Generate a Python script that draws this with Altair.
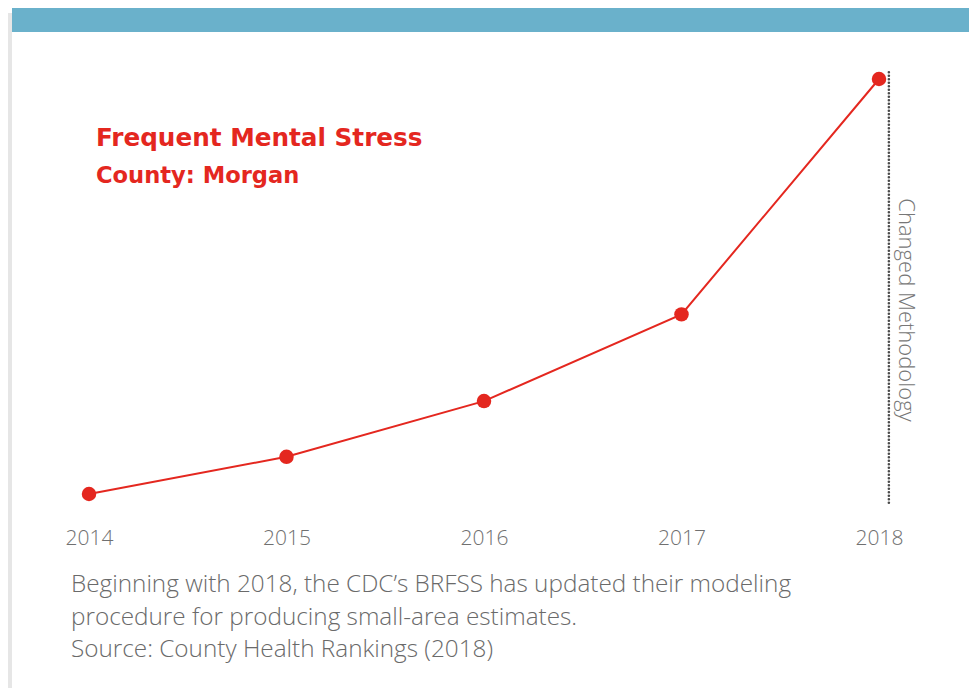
import altair as alt
import pandas as pd

# ---- data ----
years = [2014, 2015, 2016, 2017, 2018]
values = [11.4, 12.0, 12.9, 14.3, 18.1]
change_year = [2018.05]
change_top = [18.21]
change_bottom = [11.22]

title_line1 = "Frequent Mental Stress"
title_line2 = "County: Morgan"
rule_label = "Changed Methodology"
footnote = [
    "Beginning with 2018, the CDC\u2019s BRFSS has updated their modeling",
    "procedure for producing small-area estimates.",
    "Source: County Health Rankings (2018)",
]

RED = "#e4271f"

df = pd.DataFrame({"year": years, "value": values})
rule_df = pd.DataFrame({"year": change_year, "top": change_top, "bottom": change_bottom})
one = pd.DataFrame({"a": [0]})

x_scale = alt.Scale(domain=[2014, 2018], nice=False, zero=False)
y_scale = alt.Scale(domain=[11.4, 18.1], nice=False, zero=False)

x_enc = alt.X(
    "year:Q",
    scale=x_scale,
    axis=alt.Axis(
        values=years, format="d", title=None, ticks=False, domain=False, grid=False,
        labelFont="Open Sans", labelFontSize=21, labelFontWeight=300, labelColor="#707070",
        labelBaseline="alphabetic", labelPadding=50, labelFlush=False,
    ),
)
y_enc = alt.Y("value:Q", scale=y_scale, axis=None)

# decorations (thick rules)
shadow = alt.Chart(one).mark_rule(color="#e6e6e6", strokeWidth=4, strokeCap="butt").encode(
    x=alt.value(-79), y=alt.value(-66), y2=alt.value(609)
)

bar = alt.Chart(one).mark_rule(color="#6ab1cb", strokeWidth=24, strokeCap="butt").encode(
    x=alt.value(-77), x2=alt.value(880), y=alt.value(-59)
)

t1 = alt.Chart(one).mark_text(
    text=title_line1, font="DejaVu Sans", fontSize=24.7, fontWeight="bold", color=RED,
    align="left", baseline="alphabetic",
).encode(x=alt.value(7), y=alt.value(67))

t2 = alt.Chart(one).mark_text(
    text=title_line2, font="DejaVu Sans", fontSize=22.6, fontWeight="bold", color=RED,
    align="left", baseline="alphabetic",
).encode(x=alt.value(7), y=alt.value(104))

rule = alt.Chart(rule_df).mark_rule(
    color="#4a4a4a", strokeWidth=2.6, strokeDash=[0.1, 3.4], strokeCap="round"
).encode(x=alt.X("year:Q", scale=x_scale), y=alt.Y("top:Q", scale=y_scale), y2="bottom:Q")

rule_text = alt.Chart(one).mark_text(
    text=rule_label, font="Open Sans", fontSize=22, fontWeight=300, color="#777777",
    angle=90, align="center", baseline="middle",
).encode(x=alt.value(817), y=alt.value(231))

foot = alt.Chart(one).mark_text(
    text=footnote, font="Open Sans", fontSize=24.3, fontWeight=300,
    color="#6a6a6a", align="left", baseline="alphabetic", lineHeight=32.5,
).encode(x=alt.value(-18), y=alt.value(513))

line = alt.Chart(df).mark_line(color=RED, strokeWidth=2).encode(x=x_enc, y=y_enc)
points = alt.Chart(df).mark_point(filled=True, color=RED, size=210, opacity=1).encode(x=x_enc, y=y_enc)

chart = alt.layer(line, points, rule, shadow, bar, t1, t2, rule_text, foot).properties(
    width=790, height=415,
    autosize=alt.AutoSizeParams(type="none"),
    padding={"left": 81, "top": 71, "right": 90, "bottom": 194},
    background="white",
).configure_view(stroke=None)

chart.save("out.html", embed_options={"renderer": "svg", "actions": False})
